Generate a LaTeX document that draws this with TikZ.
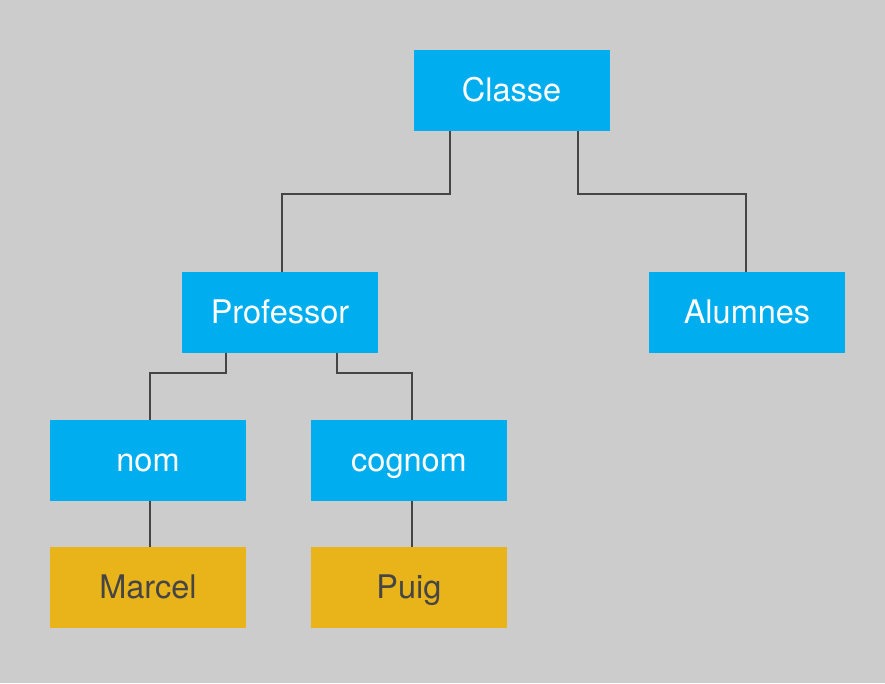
\documentclass[tikz,border=0pt]{standalone}
\usepackage{fontspec}
\setmainfont{TeX Gyre Heros}
\usepackage{tikz}
\definecolor{fons}{HTML}{CCCCCC}
\definecolor{blau}{HTML}{00AEEF}
\definecolor{groc}{HTML}{E9B31A}
\definecolor{linia}{HTML}{454545}
\tikzset{
  caixa/.style={rectangle, fill=blau, text=white, minimum width=196pt, minimum height=81pt, inner sep=0pt, text height=26pt, text depth=4pt, font=\fontsize{32.5}{38}\selectfont},
  fulla/.style={caixa, fill=groc, text=linia},
  branca/.style={draw=linia, line width=1.6pt}
}
\begin{document}
\begin{tikzpicture}[x=1pt,y=-1pt]
\fill[fons] (0,0) rectangle (885,683);
\useasboundingbox (0,0) rectangle (885,683);
\node[caixa] (classe) at (511.5,90) {Classe};
\node[caixa] (professor) at (280,312.5) {Professor};
\node[caixa] (alumnes) at (747,312.5) {Alumnes};
\node[caixa] (nom) at (148,460.5) {nom};
\node[caixa] (cognom) at (409,460.5) {cognom};
\node[fulla] (marcel) at (148,587.5) {Marcel};
\node[fulla] (puig) at (409,587.5) {Puig};
\draw[branca] ([xshift=-61.5pt]classe.south) |- (282,194) -- ([xshift=2pt]professor.north);
\draw[branca] ([xshift=66.5pt]classe.south) |- (746,194) -- ([xshift=-1pt]alumnes.north);
\draw[branca] ([xshift=-54pt]professor.south) |- (150,373) -- ([xshift=2pt]nom.north);
\draw[branca] ([xshift=57pt]professor.south) |- (412,373) -- ([xshift=3pt]cognom.north);
\draw[branca] ([xshift=2pt]nom.south) -- ([xshift=2pt]marcel.north);
\draw[branca] ([xshift=3pt]cognom.south) -- ([xshift=3pt]puig.north);
\end{tikzpicture}
\end{document}
